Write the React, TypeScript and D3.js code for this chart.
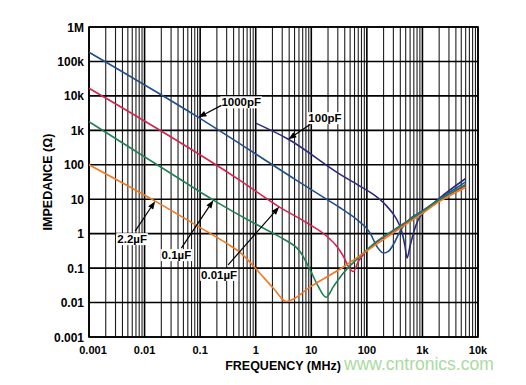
import React, { useRef, useEffect } from 'react';
import * as d3 from 'd3';

// [frequency MHz, impedance ohms]
type Pt = [number, number];

const cap100pF: Pt[] = [
  [1.0, 1620], [3.87, 553], [33, 52.8], [75, 24], [131, 13.8], [228, 6.3], [345, 2.58],
  [424, 1.17], [487, 0.43], [528, 0.197], [598, 0.43], [689, 1.05], [844, 2.58],
  [1194, 5.05], [2000, 10.5], [6000, 40],
];
const cap1000pF: Pt[] = [
  [0.001, 185000], [0.093, 2380], [5.1, 37.8], [19, 9.9], [33, 5.65], [50, 3.6], [65.8, 2.58],
  [114, 1.05], [151, 0.43], [198, 0.275], [244, 0.307], [300, 0.48], [369, 0.94], [453, 1.64],
  [600, 2.7], [1000, 4.6], [2000, 10], [6000, 32],
];
const cap10nF: Pt[] = [
  [0.001, 16700], [0.489, 37.8], [2.64, 6.0], [8.3, 2.07], [19, 0.84], [28.7, 0.43],
  [37.8, 0.22], [46.5, 0.112], [57, 0.08], [70, 0.154], [100, 0.32], [131, 0.47],
  [400, 1.6], [1000, 4.3], [2000, 9.2], [6000, 25],
];
const cap100nF: Pt[] = [
  [0.001, 1770], [0.099, 16.5], [0.173, 9.4], [0.4, 4.3], [1.0, 1.9], [2.0, 1.05], [3.15, 0.7],
  [6.3, 0.3], [9.5, 0.09], [13.4, 0.029], [18.5, 0.0143], [25, 0.029], [37.8, 0.072],
  [75, 0.22], [131, 0.5], [400, 1.7], [1000, 4.4], [2000, 9.5], [6000, 27],
];
const cap2u2F: Pt[] = [
  [0.001, 100], [0.0155, 8.8], [0.1, 1.5], [0.3, 0.52], [0.56, 0.26], [0.85, 0.13], [1.2, 0.07],
  [2.08, 0.026], [3.6, 0.0107], [10, 0.03], [37.7, 0.108], [131, 0.43], [400, 1.45],
  [1000, 3.9], [2075, 8.8], [6000, 22],
];

const seriesNames = ['100pF', '1000pF', '0.01µF', '0.1µF', '2.2µF'];
const seriesData = [cap100pF, cap1000pF, cap10nF, cap100nF, cap2u2F];

const xTickValues = [0.001, 0.01, 0.1, 1, 10, 100, 1000, 10000];
const xTickLabels = ['0.001', '0.01', '0.1', '1', '10', '100', '1k', '10k'];
const yTickValues = [0.001, 0.01, 0.1, 1, 10, 100, 1000, 10000, 100000, 1000000];
const yTickLabels = ['0.001', '0.01', '0.1', '1', '10', '100', '1k', '10k', '100k', '1M'];

const COLORS: Record<string, string> = {
  '100pF': '#2c2a80',
  '1000pF': '#1f4f8c',
  '0.01µF': '#d3234f',
  '0.1µF': '#1f7f55',
  '2.2µF': '#ee7a22',
};

// label callouts: tip sits on the curve, tail is offset in px
const callouts = [
  { name: '1000pF', tip: [0.093, 2380], dx: 23, dy: -12, anchor: 'start', tx: 0, ty: 1 },
  { name: '100pF', tip: [3.87, 553], dx: 22, dy: -15, anchor: 'start', tx: -2, ty: -2 },
  { name: '2.2µF', tip: [0.0155, 8.8], dx: -20, dy: 30, anchor: 'middle', tx: -3, ty: 12 },
  { name: '0.1µF', tip: [0.173, 9.4], dx: -32, dy: 48, anchor: 'middle', tx: -5, ty: 11 },
  { name: '0.01µF', tip: [2.64, 6.0], dx: -51, dy: 58, anchor: 'middle', tx: -9, ty: 14 },
];

const W = 526;
const H = 385;
const FONT = '"Liberation Sans", Arial, Helvetica, sans-serif';

const App: React.FC = () => {
  const svgRef = useRef<SVGSVGElement | null>(null);

  useEffect(() => {
    const svg = d3.select(svgRef.current);
    svg.selectAll('*').remove();

    const left = 89, right = 478, top = 27, bottom = 337;
    const x = d3.scaleLog().domain([0.001, 10000]).range([left, right]);
    const y = d3.scaleLog().domain([0.001, 1e6]).range([bottom, top]);

    // minor vertical grid
    const minor: number[] = [];
    for (let e = -3; e < 4; e++) for (let m = 2; m <= 9; m++) minor.push(m * Math.pow(10, e));
    svg.append('g').selectAll('line').data(minor).join('line')
      .attr('x1', (d) => x(d)).attr('x2', (d) => x(d))
      .attr('y1', top).attr('y2', bottom)
      .attr('stroke', '#1e1e1e').attr('stroke-width', 1.1);

    // major grid
    svg.append('g').selectAll('line').data(xTickValues).join('line')
      .attr('x1', (d) => x(d)).attr('x2', (d) => x(d))
      .attr('y1', top).attr('y2', bottom)
      .attr('stroke', '#000').attr('stroke-width', 1.6);
    svg.append('g').selectAll('line').data(yTickValues).join('line')
      .attr('x1', left).attr('x2', right)
      .attr('y1', (d) => y(d)).attr('y2', (d) => y(d))
      .attr('stroke', '#000').attr('stroke-width', 1.6);

    svg.append('rect')
      .attr('x', left).attr('y', top).attr('width', right - left).attr('height', bottom - top)
      .attr('fill', 'none').attr('stroke', '#000').attr('stroke-width', 1.6);

    // tick labels
    svg.append('g').selectAll('text').data(yTickValues).join('text')
      .attr('x', 84).attr('y', (d) => y(d) + 4.5)
      .attr('text-anchor', 'end')
      .attr('font-family', FONT).attr('font-weight', 'bold').attr('font-size', 12)
      .text((_, i) => yTickLabels[i]);
    svg.append('g').selectAll('text').data(xTickValues).join('text')
      .attr('x', (d, i) => x(d) + (i === 0 ? 4 : 0)).attr('y', 353.5)
      .attr('text-anchor', 'middle')
      .attr('font-family', FONT).attr('font-weight', 'bold').attr('font-size', 11)
      .text((_, i) => xTickLabels[i]);

    // axis titles
    svg.append('text')
      .attr('x', 283).attr('y', 369.5).attr('text-anchor', 'middle')
      .attr('font-family', FONT).attr('font-weight', 'bold').attr('font-size', 12.5)
      .text('FREQUENCY (MHz)');
    svg.append('text')
      .attr('transform', `translate(52,${(top + bottom) / 2}) rotate(-90)`)
      .attr('text-anchor', 'middle')
      .attr('font-family', FONT).attr('font-weight', 'bold').attr('font-size', 12.5)
      .text('IMPEDANCE (Ω)');

    // curves
    svg.append('clipPath').attr('id', 'plot-clip')
      .append('rect').attr('x', left).attr('y', top).attr('width', right - left).attr('height', bottom - top);
    const line = d3.line<Pt>()
      .x((d) => x(d[0]))
      .y((d) => y(d[1]))
      .curve(d3.curveMonotoneX);
    const curves = svg.append('g').attr('clip-path', 'url(#plot-clip)');
    seriesData.forEach((pts, i) => {
      curves.append('path')
        .attr('d', line(pts) ?? '')
        .attr('fill', 'none')
        .attr('stroke', COLORS[seriesNames[i]])
        .attr('stroke-width', 1.6)
        .attr('stroke-linejoin', 'round');
    });

    // callouts with arrows
    const ann = svg.append('g');
    callouts.forEach((c) => {
      const tx = x(c.tip[0]);
      const ty = y(c.tip[1]);
      const sx = tx + c.dx;
      const sy = ty + c.dy;
      const len = Math.hypot(c.dx, c.dy);
      const ux = -c.dx / len, uy = -c.dy / len;
      const hl = 8, hw = 3;
      const bx = tx - ux * hl, by = ty - uy * hl;
      const label = ann.append('g');
      const txt = label.append('text')
        .attr('x', sx + c.tx).attr('y', sy + c.ty)
        .attr('text-anchor', c.anchor)
        .attr('font-family', FONT).attr('font-weight', 'bold').attr('font-size', 11.5)
        .text(c.name);
      const bb = (txt.node() as SVGTextElement).getBBox();
      label.insert('rect', 'text')
        .attr('x', bb.x - 1).attr('y', bb.y).attr('width', bb.width + 2).attr('height', bb.height)
        .attr('fill', '#fff');
      ann.append('line')
        .attr('x1', sx).attr('y1', sy).attr('x2', bx).attr('y2', by)
        .attr('stroke', '#000').attr('stroke-width', 1.2);
      ann.append('path')
        .attr('d', `M${tx},${ty}L${bx - uy * hw},${by + ux * hw}L${bx + uy * hw},${by - ux * hw}Z`)
        .attr('fill', '#000');
    });

    // watermark
    svg.append('text')
      .attr('x', 344).attr('y', 370)
      .attr('font-family', FONT).attr('font-size', 17.5)
      .attr('fill', '#a9dba0')
      .text('www.cntronics.com');
  }, []);

  return (
    <svg
      ref={svgRef}
      width={W}
      height={H}
      style={{ position: 'absolute', left: 0, top: 0, background: '#fff' }}
    />
  );
};

export default App;
